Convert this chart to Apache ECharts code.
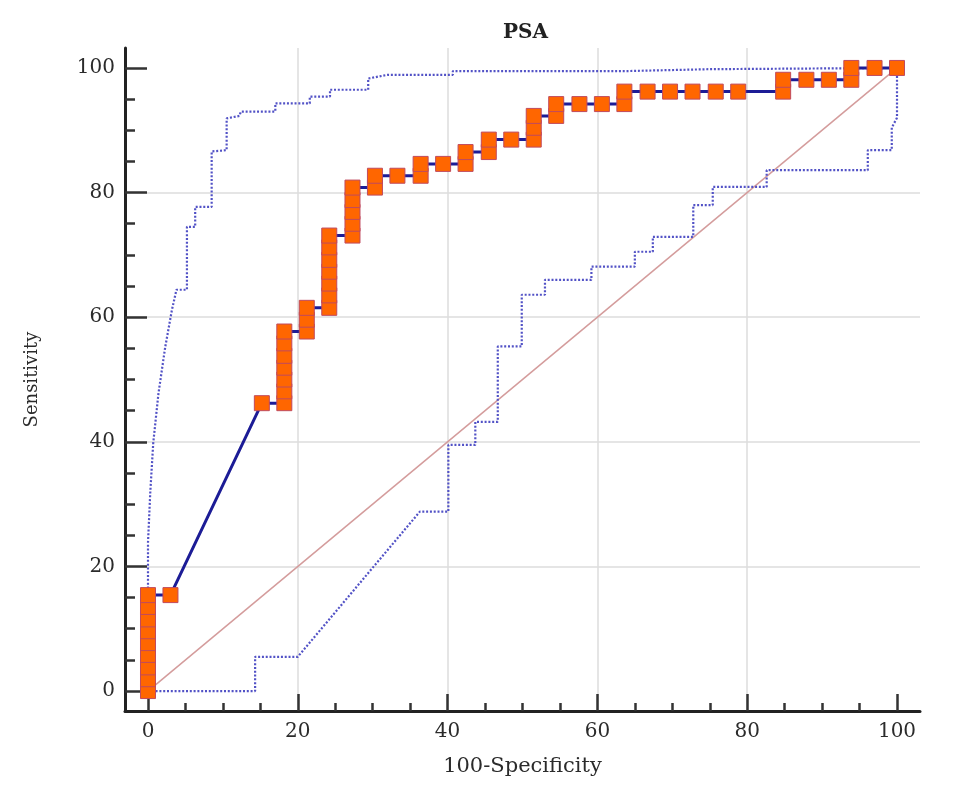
<!DOCTYPE html>
<html>
<head>
<meta charset="utf-8">
<script src="https://cdn.jsdelivr.net/npm/echarts@6/dist/echarts.min.js"></script>
<style>
  html, body { margin: 0; padding: 0; background: #fff; }
  #main-chart { width: 962px; height: 808px; }
</style>
</head>
<body>
<div id="main-chart"></div>
<script>
// ROC points (100-Specificity, Sensitivity)
const rocFpr = [
  0, 0, 0, 0, 0, 0, 0, 0, 0,
  3.0, 15.2,
  18.2, 18.2, 18.2, 18.2, 18.2, 18.2, 18.2,
  21.2, 21.2, 21.2,
  24.2, 24.2, 24.2, 24.2, 24.2, 24.2, 24.2,
  27.3, 27.3, 27.3, 27.3, 27.3,
  30.3, 30.3, 33.3, 36.4, 36.4, 39.4, 42.4, 42.4, 45.5, 45.5, 48.5,
  51.5, 51.5, 51.5, 54.5, 54.5, 57.6, 60.6, 63.6, 63.6,
  66.7, 69.7, 72.7, 75.8, 78.8,
  84.8, 84.8, 87.9, 90.9, 93.9, 93.9, 97.0, 100
]
const rocTpr = [
  0, 1.9, 3.8, 5.8, 7.7, 9.6, 11.5, 13.5, 15.4,
  15.4, 46.2,
  46.2, 48.1, 50.0, 51.9, 53.8, 55.8, 57.7,
  57.7, 59.6, 61.5,
  61.5, 63.5, 65.4, 67.3, 69.2, 71.2, 73.1,
  73.1, 75.0, 76.9, 78.8, 80.8,
  80.8, 82.7, 82.7, 82.7, 84.6, 84.6, 84.6, 86.5, 86.5, 88.5, 88.5,
  88.5, 90.4, 92.3, 92.3, 94.2, 94.2, 94.2, 94.2, 96.2,
  96.2, 96.2, 96.2, 96.2, 96.2,
  96.2, 98.1, 98.1, 98.1, 98.1, 100, 100, 100
]

// 95% confidence bounds (dotted)
const upperX = [0, 0, 0.3, 0.7, 1.4, 2.3, 3.2, 3.8, 5.2, 5.2, 6.3, 6.3, 8.5, 8.5, 10.5, 10.5, 12.2, 12.4, 17, 17, 21.6, 21.6, 24.3, 24.3, 29.4, 29.4, 32, 40.7, 40.7, 64, 64, 75, 75, 100]
const upperY = [0, 23.8, 31.8, 39.8, 47.8, 55.2, 61.2, 64.4, 64.4, 74.5, 74.5, 77.7, 77.7, 86.6, 86.8, 91.9, 92.3, 93.0, 93.0, 94.3, 94.3, 95.4, 95.4, 96.5, 96.5, 98.3, 98.9, 98.9, 99.5, 99.5, 99.8, 99.8, 100, 100]
const lowerX = [0, 14.3, 14.3, 20, 36.3, 40.1, 40.1, 43.7, 43.7, 46.7, 46.7, 49.9, 49.9, 53, 53, 59.2, 59.2, 65, 65, 67.4, 67.4, 72.8, 72.8, 75.4, 75.4, 82.6, 82.6, 96.1, 96.1, 99.3, 99.3, 100, 100]
const lowerY = [0, 0, 5.5, 5.5, 28.8, 28.8, 39.5, 39.5, 43.2, 43.2, 55.3, 55.3, 63.6, 63.6, 66.0, 66.0, 68.1, 68.1, 70.5, 70.5, 72.9, 72.9, 78.0, 78.0, 80.9, 80.9, 83.6, 83.6, 86.8, 86.8, 90.4, 92, 100]

// chance line
const diagX = [0, 100]
const diagY = [0, 100]

const majorTicks = [0, 20, 40, 60, 80, 100]
const minorTicks = [5, 10, 15, 25, 30, 35, 45, 50, 55, 65, 70, 75, 85, 90, 95]

const zip = (xs, ys) => xs.map((x, i) => [x, ys[i]])

const FONT = 'DejaVu Serif'
const TEXT_COLOR = '#2b2b2b'
const BAND_STYLE = { color: '#5252c6', width: 2.2, type: [2, 1.8] }

function majorAxis(extra) {
  return Object.assign({
    type: 'value',
    axisLine: { show: true, onZero: false, lineStyle: { color: '#222', width: 3 } },
    splitLine: { show: true, showMinLine: false, showMaxLine: false, lineStyle: { color: '#dcdcdc', width: 1.5 } },
    nameLocation: 'middle',
  }, extra)
}

function minorAxis(extra) {
  return Object.assign({
    type: 'value',
    axisLine: { show: false, onZero: false },
    axisLabel: { show: false },
    splitLine: { show: false },
  }, extra)
}

const chart = echarts.init(document.getElementById('main-chart'))

chart.setOption({
  animation: false,
  backgroundColor: '#fff',
  title: {
    text: 'PSA',
    left: 498,
    top: 18,
    textStyle: { fontFamily: FONT, fontSize: 20, fontWeight: 'bold', color: '#222' }
  },
  grid: { left: 125, right: 42, top: 48, bottom: 97, outerBoundsMode: 'none' },
  xAxis: [
    majorAxis({
      position: 'bottom', min: -3.07, max: 103.07,
      name: '100-Specificity', nameGap: 45,
      axisTick: { show: true, inside: true, length: 17, customValues: majorTicks, lineStyle: { color: '#333', width: 2.5 } },
      axisLabel: { customValues: majorTicks, margin: 11, fontFamily: FONT, fontSize: 20, color: TEXT_COLOR },
      nameTextStyle: { fontFamily: FONT, fontSize: 21, color: TEXT_COLOR },
    }),
    minorAxis({
      position: 'bottom', min: -3.07, max: 103.07,
      axisTick: { show: true, inside: true, length: 8, customValues: minorTicks, lineStyle: { color: '#333', width: 2.5 } },
    }),
  ],
  yAxis: [
    majorAxis({
      position: 'left', min: -3.2, max: 103.2,
      name: 'Sensitivity', nameGap: 84,
      axisTick: { show: true, inside: true, length: 22, customValues: majorTicks, lineStyle: { color: '#333', width: 2.5 } },
      axisLabel: { customValues: majorTicks, margin: 10, fontFamily: FONT, fontSize: 20, color: TEXT_COLOR },
      nameTextStyle: { fontFamily: FONT, fontSize: 18, color: TEXT_COLOR },
    }),
    minorAxis({
      position: 'left', min: -3.2, max: 103.2,
      axisTick: { show: true, inside: true, length: 10, customValues: minorTicks, lineStyle: { color: '#333', width: 2.5 } },
    }),
  ],
  series: [
    {
      name: 'reference',
      type: 'line',
      data: zip(diagX, diagY),
      symbol: 'none',
      silent: true,
      lineStyle: { color: '#d49c9c', width: 1.5 },
      z: 1,
    },
    {
      name: 'lower',
      type: 'line',
      data: zip(lowerX, lowerY),
      symbol: 'none',
      silent: true,
      lineStyle: BAND_STYLE,
      z: 2,
    },
    {
      name: 'upper',
      type: 'line',
      data: zip(upperX, upperY),
      symbol: 'none',
      silent: true,
      lineStyle: BAND_STYLE,
      z: 2,
    },
    {
      name: 'ROC',
      type: 'line',
      data: zip(rocFpr, rocTpr),
      symbol: 'rect',
      symbolSize: 15,
      showAllSymbol: true,
      lineStyle: { color: '#1c1c96', width: 3 },
      itemStyle: { color: '#ff6600', borderColor: '#c04a5e', borderWidth: 1 },
      z: 3,
    },
  ],
})
</script>
</body>
</html>
